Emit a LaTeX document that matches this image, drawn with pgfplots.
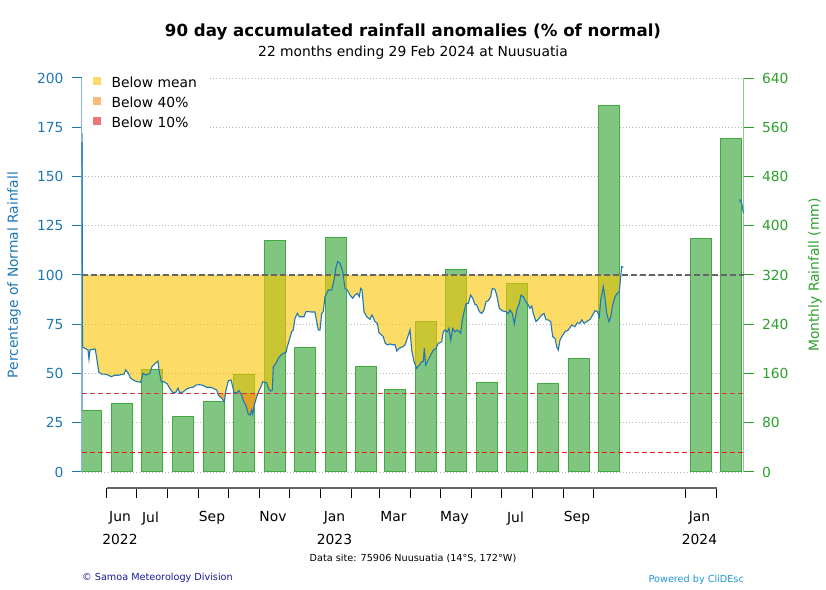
\documentclass[border=0pt]{standalone}
\usepackage{fontspec}
\setmainfont{DejaVu Sans}
\usepackage{pgfplots}
\usepackage{pgfplotstable}
\pgfplotsset{compat=1.18}
\usepgfplotslibrary{fillbetween}

\definecolor{mblue}{HTML}{1F77B4}
\definecolor{mgreen}{HTML}{2CA02C}
\definecolor{barfill}{RGB}{128,198,128}
\definecolor{fyellow}{RGB}{250,197,0}
\definecolor{forange}{RGB}{245,140,30}
\definecolor{legyellow}{RGB}{252,220,102}
\definecolor{legorange}{RGB}{249,186,120}
\definecolor{legred}{RGB}{240,118,118}
\definecolor{line40}{RGB}{205,60,60}
\definecolor{line10}{RGB}{235,20,20}
\definecolor{navytxt}{RGB}{26,26,150}
\definecolor{clidesc}{RGB}{30,150,210}
\definecolor{gridgray}{RGB}{180,180,180}

\newcommand\fs{\fontsize{13.9}{16}\selectfont}
\newcommand\fsy{\fontsize{13.9}{23}\selectfont}
\newcommand\fss{\fontsize{9.7}{11}\selectfont}

% day numbers counted from 1 May 2022
\pgfplotstableread{
x y
6.5 167.5
7 63.6
}\pctstart

\pgfplotstableread{
x y
7 63.6
9.2 62.8
12.5 62
13.5 57.2
14.5 62
17.5 62.3
19.8 62.3
21.5 56.9
23.2 50.9
25.8 49.7
29.2 49.7
32.5 49.2
35.8 48.4
39.2 49.1
42.5 49.1
45.8 49.4
48.5 49.7
50.2 51.8
52.5 50.4
55.2 47.6
59.2 46.3
62.5 45.8
65.2 45.5
67.5 50.1
70.8 49.2
74.2 50.1
76.5 53.5
79.8 55.2
82.5 56.3
83.5 51.8
85.8 45.8
88.5 45.8
91.8 44.7
94.2 42.5
97.5 40.3
100.2 40.4
102.5 42.5
104.2 40.3
107.5 40.6
110.8 42
114.2 42.8
117.5 43
120.8 44.2
124.2 44.3
127.5 44
131 43
134.5 43
137.8 42.5
141.2 41.6
142.8 39.1
146.2 37.4
148.8 35.7
150.5 41.6
152.8 46.3
155.5 46.7
157.2 43.3
158.5 40.3
161.2 40.3
163.5 41.3
166.2 39.1
167.8 36.2
170.2 34
172.8 29.4
174.5 28.9
176.2 31.5
177.2 29.4
178.8 34
181.2 38.2
183.8 41.6
185.5 43.3
187.2 45.8
189.5 45.5
191.2 45.3
192.8 42.5
195.2 41.1
196.8 41.6
197.8 53.5
200.5 55.2
202.8 57.7
205.5 59.4
207.8 60.3
210.5 60.6
211.8 63.6
213.8 67
216.2 71.2
217.8 72.1
219.5 78
221.8 80.5
223.8 78.8
226.2 78.8
228.5 78.8
230.5 81.4
232.8 81.4
236.2 81.2
239.5 81.2
241.2 76.3
242.8 72.1
244.5 72.1
246.2 80.5
247.8 81.4
249.5 89
251.2 90.7
252.8 92.4
256.2 92.4
258.5 97.5
260.5 103.9
262.2 106.8
264.5 105.9
267.2 101.7
269.5 93.2
271.8 92.4
274.5 89.8
277.2 88.2
279.5 89.8
281.8 90.7
283.8 89
285.2 93.2
286.5 92.4
288.5 81.4
291.2 78.8
294.5 77.5
296.5 79.7
299.5 76.3
301.8 75.5
303.5 70.7
306.2 69.5
307.8 68.7
309.5 65.6
311.8 64.5
314.5 65
317.2 64.5
319.5 64.8
321.2 61.4
323.8 62.8
327.2 63.6
329.5 64.5
331.8 67.9
334.5 72.1
336.2 61.9
338.5 56
341.2 52.6
343.8 54.3
346.2 56
347.8 56
348.8 62.8
350.2 54.3
352.8 56.9
355.2 59.4
357.8 61.9
360.5 62.8
362.8 65.3
366.2 66.1
367.8 71.2
369.5 72.1
371.8 71.2
373.5 72.9
375.2 67
377.2 72.9
379.5 71.2
381.8 72.1
383.8 71.2
385.2 70.4
386.5 76.3
387.8 79.7
390.5 85.3
392.8 85.6
395.2 89.8
397.2 88.2
399.5 85
401.2 84.8
403.8 81.4
406.2 80.5
408.5 82.2
410.5 86.4
412.8 87
415.2 89
416.8 93.2
419.5 92.7
421.2 89.8
423.8 83.1
427.2 81.7
430.5 81.4
432.8 80.5
434.5 82.2
436.8 80.5
438.8 75.1
441.2 82.2
443.8 85.6
445.5 89.8
447.8 89
450.5 86.4
452.8 84.8
454.5 83.1
456.2 84.3
457.8 80.5
460.5 76.3
462.8 77.5
466.2 79.7
468.5 80.5
470.5 77.2
472.8 77.2
475.2 76.3
477.2 68.7
479.5 67.9
481.2 63.6
482.8 61.9
484.5 67
487.2 69.5
489.5 71.2
492.8 72.1
496.2 74.6
499.5 73.8
501.8 75.8
504.5 75.5
506.2 77.2
508.5 75.5
511.2 76.3
514.5 77.5
517.2 79.7
519.5 81.9
521.8 81.4
523.8 78.8
525.2 87.3
527.8 94.1
529.5 88.2
531.2 80.5
533.5 76.3
535.2 78.8
537.2 84.8
539.5 89
541.8 90.7
543.8 91.5
545.2 99.1
546.2 104.2
547.8 103.9
}\pctmain

\pgfplotstableread{
x y
663.8 138.4
666.2 136.4
668 131.3
}\pctend

% monthly rainfall (mm), bar centred on mid-month
\pgfplotstableread{
x y
15.5 100
46 112
76.5 166
107.5 90
138 115
168.5 159
199 376
229.5 203
260.5 381
290 172
319.5 134
350 245
380.5 329
411 145
441.5 306
472.5 144
503 185
533.5 596
625.5 380
655.5 542
}\rainmm

\pgfplotsset{
  base/.style={
    scale only axis, width=661.5bp, height=394bp,
    at={(82bp,118bp)}, anchor=south west,
    xmin=6.5, xmax=668,
    /pgf/number format/assume math mode=true,
    tick label style={font=\fs},
  }
}

\begin{document}
\begin{tikzpicture}

% ---- axis A: left scale, grid
\begin{axis}[base,
  ymin=0, ymax=200,
  axis x line=none, axis y line*=left,
  ytick={0,25,...,200},
  ymajorgrids,
  grid style={gridgray, line width=0.9bp, dash pattern=on 1bp off 2.2bp},
  tick align=outside, major tick length=10bp,
  y axis line style={mblue!55, line width=1.3bp},
  ytick style={mblue, line width=1bp},
  yticklabel style={text=mblue, xshift=-5bp},
  ylabel={Percentage of Normal Rainfall},
  every axis y label/.style={at={(axis description cs:-0.1028,0.5)}, rotate=90, anchor=center, font=\fs, text=mblue},
]
\addplot[draw=none, forget plot] coordinates {(6.5,0) (668,0)};
\end{axis}

% ---- axis B: right scale, monthly bars
\begin{axis}[base,
  ymin=0, ymax=640,
  axis x line=none, axis y line*=right,
  ytick={0,80,...,640},
  tick align=outside, major tick length=10bp,
  y axis line style={mgreen!55, line width=1.3bp},
  ytick style={mgreen, line width=1bp},
  yticklabel style={text=mgreen, xshift=5bp},
  ylabel={Monthly Rainfall (mm)},
  every axis y label/.style={at={(axis description cs:1.108,0.5)}, rotate=90, anchor=center, font=\fs, text=mgreen},
]
\addplot[ybar, bar width=21, fill=barfill, draw=mgreen!90, line width=1bp] table {\rainmm};
\end{axis}

% ---- axis C: anomaly line and shading
\begin{axis}[base,
  ymin=0, ymax=200,
  hide axis,
  legend style={draw=none, fill=white, at={(axis description cs:0,1.014)}, anchor=north west,
    font=\fs, inner xsep=11bp, inner ysep=4bp, row sep=8bp,
    nodes={inner sep=0pt}, column sep=11bp},
  legend cell align=left,
]
\addlegendimage{legend image code/.code={\fill[legyellow] (0bp,-1bp) rectangle (7bp,6bp);}}
\addlegendentry{Below mean}
\addlegendimage{legend image code/.code={\fill[legorange] (0bp,-1bp) rectangle (7bp,6bp);}}
\addlegendentry{Below 40\%}
\addlegendimage{legend image code/.code={\fill[legred] (0bp,-1bp) rectangle (7bp,6bp);}}
\addlegendentry{Below 10\%}

\addplot[draw=none, name path=pct, forget plot] table {\pctmain};
\addplot[draw=none, name path=h100, forget plot] coordinates {(7,100) (547.8,100)};
\addplot[draw=none, name path=h40, forget plot] coordinates {(7,40) (547.8,40)};

\addplot[draw=none, fill=none, forget plot] fill between[of=pct and h100, split,
  on layer=axis foreground,
  every even segment/.style={fill=fyellow, fill opacity=0.6}];
\addplot[draw=none, fill=none, forget plot] fill between[of=pct and h40, split,
  on layer=axis foreground,
  every odd segment/.style={fill=forange, fill opacity=0.6}];

\addplot[on layer=axis foreground, line10, line width=1bp, dash pattern=on 5bp off 3bp, forget plot] coordinates {(6.5,10) (668,10)};
\addplot[on layer=axis foreground, line40, line width=1bp, dash pattern=on 5bp off 3bp, forget plot] coordinates {(6.5,40) (668,40)};
\addplot[on layer=axis foreground, black!60, line width=1.6bp, dash pattern=on 6bp off 3bp, forget plot] coordinates {(6.5,100) (668,100)};

\addplot[on layer=axis foreground, mblue, line width=1.1bp, forget plot] table {\pctstart};
\addplot[on layer=axis foreground, mblue, line width=1.1bp, forget plot] table {\pctmain};
\addplot[on layer=axis foreground, mblue, line width=1.1bp, forget plot] table {\pctend};
\end{axis}

% ---- axis D: month axis below
\begin{axis}[
  scale only axis, width=610bp, height=10bp,
  at={(106.5bp,102bp)}, anchor=south west,
  xmin=31, xmax=641, ymin=0, ymax=1,
  axis y line=none, axis x line*=bottom,
  x axis line style={black!60, line width=1.6bp},
  xtick={31,61,92,123,153,184,214,245,276,304,335,365,396,426,457,488,518,610,641},
  xticklabels={},
  tick align=outside, major tick length=10bp,
  xtick style={black, line width=0.9bp},
  extra x ticks={44.5,75,136.5,197.5,259,318,379,440,501.5,624},
  extra x tick labels={{Jun\\2022},Jul,Sep,Nov,{Jan\\2023},Mar,May,Jul,Sep,{Jan\\2024}},
  extra x tick style={major tick length=0pt, tick label style={align=center, font=\fsy, yshift=-20bp}},
]
\addplot[draw=none, forget plot] coordinates {(31,0) (641,0)};
\end{axis}

% ---- titles and notes
\node[font=\fontsize{16.7}{20}\selectfont\bfseries] at (413bp,558bp) {90 day accumulated rainfall anomalies (\% of normal)};
\node[font=\fs] at (413bp,537bp) {22 months ending 29 Feb 2024 at Nuusuatia};
\node[font=\fss] at (413bp,32bp) {Data site: 75906 Nuusuatia (14°S, 172°W)};
\node[font=\fss, text=navytxt, anchor=west, inner sep=0pt] at (82bp,12bp) {© Samoa Meteorology Division};
\node[font=\fss, text=clidesc, anchor=east, inner sep=0pt] at (744bp,10bp) {Powered by CliDEsc};

\pgfresetboundingbox
\path[use as bounding box] (0,0) rectangle (826bp,590bp);
\end{tikzpicture}
\end{document}
